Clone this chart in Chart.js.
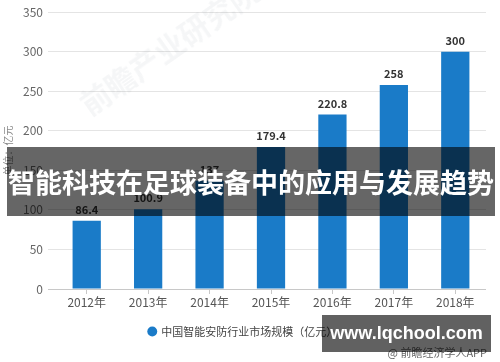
<!DOCTYPE html>
<html>
<head>
<meta charset="utf-8">
<script src="https://cdn.jsdelivr.net/npm/chart.js@4/dist/chart.umd.min.js"></script>
<style>
    html, body { margin: 0; padding: 0; background: #fff; }
    #wrap { position: relative; width: 500px; height: 362px; overflow: hidden; }
    #chart { position: absolute; left: 0; top: 0; }
    .mark { position: absolute; font-family: 'Noto Sans CJK SC', sans-serif; white-space: nowrap; }
    #wm { left: 95px; top: 80px; font-size: 30px; font-weight: bold; color: rgba(120,130,140,0.07); transform: rotate(-35deg); transform-origin: left bottom; }
    #banner { left: 7px; top: 147px; width: 488px; height: 69px; line-height: 69px; background: rgba(0,0,0,0.6);
              color: #fff; font-size: 27px; font-weight: bold; text-align: center; }
    #credit { right: 13px; top: 344px; font-size: 11px; color: #666; }
    #site { left: 322px; top: 315px; width: 169px; height: 37px; line-height: 37px; background: rgba(0,0,0,0.62);
            color: #fff; font-family: 'Liberation Sans', Arial, sans-serif; font-size: 18px; font-weight: bold; text-align: center; }
</style>
</head>
<body>
<div id="wrap">
    <canvas id="chart" width="500" height="362"></canvas>
    <div class="mark" id="wm">前瞻产业研究院</div>
    <div class="mark" id="credit">@ 前瞻经济学人APP</div>
    <div class="mark" id="banner">智能科技在足球装备中的应用与发展趋势</div>
    <div class="mark" id="site">www.lqchool.com</div>
</div>
<script>
// data
const years = ['2012年', '2013年', '2014年', '2015年', '2016年', '2017年', '2018年'];
const marketSize = [86.4, 100.9, 137, 179.4, 220.8, 258, 300];
const seriesName = '中国智能安防行业市场规模（亿元）';
const yTitle = '单位：亿元';

const FONT = "'Noto Sans CJK SC', sans-serif";
const barColor = '#1a7bc8';

// value labels over the bars
const barLabels = {
    id: 'barLabels',
    afterDatasetsDraw(chart) {
        const ctx = chart.ctx;
        const meta = chart.getDatasetMeta(0);
        ctx.save();
        ctx.font = 'bold 11px ' + FONT;
        ctx.fillStyle = '#333';
        ctx.textAlign = 'center';
        ctx.textBaseline = 'middle';
        meta.data.forEach((bar, i) => {
            ctx.fillText(String(marketSize[i]), bar.x, bar.y - 11);
        });
        ctx.restore();
    }
};

new Chart(document.getElementById('chart'), {
    type: 'bar',
    data: {
        labels: years,
        datasets: [{
            label: seriesName,
            data: marketSize,
            backgroundColor: barColor,
            categoryPercentage: 1,
            barPercentage: 0.46
        }]
    },
    options: {
        responsive: false,
        animation: false,
        layout: { padding: { top: 6, right: 14, left: 0, bottom: 15 } },
        plugins: {
            legend: {
                position: 'bottom',
                labels: {
                    usePointStyle: true,
                    pointStyle: 'circle',
                    boxWidth: 7,
                    boxHeight: 7,
                    padding: 8,
                    color: '#444',
                    font: { family: FONT, size: 11 }
                }
            },
            tooltip: { enabled: false }
        },
        scales: {
            x: {
                afterFit(scale) { scale.height = 29; },
                border: { display: false },
                grid: { drawOnChartArea: false, offset: false, tickLength: 5, color: '#c8c8c8' },
                ticks: { color: '#555', padding: 1, font: { family: FONT, size: 12 } }
            },
            y: {
                min: 0,
                max: 350,
                afterFit(scale) { scale.width = 56; },
                border: { display: false },
                grid: {
                    tickLength: 8,
                    color: ctx => (ctx.tick && ctx.tick.value === 0) ? '#c8c8c8' : '#e4e4e4'
                },
                ticks: { stepSize: 50, color: '#666', padding: 5, font: { family: FONT, size: 12 } },
                title: { display: true, text: yTitle, color: '#888', padding: 2, font: { family: FONT, size: 10 } }
            }
        }
    },
    plugins: [barLabels]
});
</script>
</body>
</html>
